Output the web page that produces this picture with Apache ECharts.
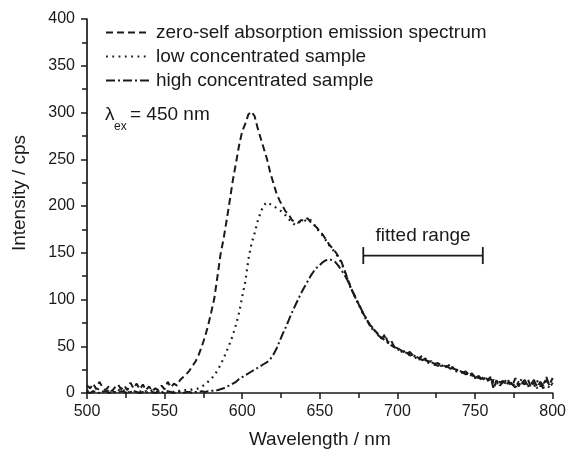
<!DOCTYPE html>
<html>
<head>
<meta charset="utf-8">
<script src="https://cdn.jsdelivr.net/npm/echarts@6/dist/echarts.min.js"></script>
<style>
html,body{margin:0;padding:0;background:#fff;}
#chart{width:569px;height:454px;}
</style>
</head>
<body>
<div id="chart"></div>
<script>
// Wavelength grid (nm)
var wavelength = [
500,502,504,506,508,510,512,514,516,518,520,522,524,526,528,530,532,534,536,538,
540,542,544,546,548,550,552,554,556,558,560,562,564,566,568,570,572,574,576,578,
580,582,584,586,588,590,592,594,596,598,600,602,604,606,608,610,612,614,616,618,
620,622,624,626,628,630,632,634,636,638,640,642,644,646,648,650,652,654,656,658,
660,662,664,666,668,670,672,674,676,678,680,682,684,686,688,690,692,694,696,698,
700,702,704,706,708,710,712,714,716,718,720,722,724,726,728,730,732,734,736,738,
740,742,744,746,748,750,752,754,756,758,760,762,764,766,768,770,772,774,776,778,
780,782,784,786,788,790,792,794,796,798,800];

// zero-self absorption emission spectrum (cps)
var zeroSelf = [
8,5,10,4,12,6,3,7,2,6,9,4,8,3,11,5,10,4,9,3,
7,2,5,3,8,4,12,6,10,8,
14,17,20,24,29,34,41,50,60,72,86,101,124,148,165,185,206,228,246,265,
280,288,298,301,296,283,272,261,250,236,225,214,206,200,194,191,185,183,182,185,
184,187,183,180,177,173,169,164,159,155,151,146,140,131,122,112,106,99,91,85,
79,73,69,66,62,58,63,53,56,49,
48,46,44,42,44,40,39,37,40,35,34,33,31,32,30,29,28,31,26,25,
24,22,23,19,21,17,19,15,18,14,17,4,15,11,13,9,12,8,16,7,
13,9,15,6,11,8,10,5,14,9,16];

// low concentrated sample (cps)
var lowConc = [
2,4,1,3,5,2,0,3,1,2,4,1,3,0,2,1,3,2,0,2,
1,3,1,2,0,3,1,2,1,3,
2,3,3,3,4,4,5,7,9,12,15,19,24,30,37,45,53,62,73,86,
103,119,143,160,171,184,194,201,204,202,200,198,196,193,190,186,182,180,182,184,
185,183,185,181,176,172,168,163,158,154,150,145,139,130,121,113,105,98,92,84,
78,74,68,65,63,57,60,55,52,50,
47,45,45,41,42,41,38,36,37,36,33,34,30,31,29,30,27,28,27,24,
25,21,22,20,18,19,16,17,14,16,12,14,10,13,9,14,10,7,12,9,
15,7,10,12,6,13,7,12,8,6,11];

// high concentrated sample (cps)
var highConc = [
1,0,2,1,0,1,2,0,1,1,0,2,1,0,1,2,1,0,1,0,
2,1,0,1,1,0,2,1,0,1,
1,0,1,1,0,1,1,2,1,2,2,3,3,4,5,7,8,10,12,15,
17,19,21,23,25,27,29,31,33,36,41,47,55,63,70,78,86,93,100,107,
113,119,125,130,134,137,140,142,143,142,140,136,131,126,120,112,105,98,92,85,
80,73,70,65,61,59,56,54,51,49,
48,45,43,43,40,41,37,38,35,37,32,33,31,29,31,28,29,26,27,23,
24,22,20,21,18,16,18,14,16,13,15,11,13,8,12,10,14,9,6,12,
10,14,7,9,14,5,12,8,17,7,10];

var seriesNames = ['zero-self absorption emission spectrum','low concentrated sample','high concentrated sample'];
var fittedRange = [678, 755];
var fittedLevel = 147;
var xTicks = {min:500, max:800, step:50};
var yTicks = {min:0, max:400, step:50};

function pairs(xs, ys){ var o=[]; for (var i=0;i<xs.length;i++) o.push([xs[i], ys[i]]); return o; }

var FONT = "'Liberation Sans', Arial, Helvetica, sans-serif";
var INK = '#1a1a1a';

var chart = echarts.init(document.getElementById('chart'), null, {renderer:'canvas'});

var lineBase = {type:'line', symbol:'none', showSymbol:false, smooth:false, silent:true, animation:false};

chart.setOption({
  animation:false,
  backgroundColor:'#fff',
  textStyle:{fontFamily:FONT, color:INK},
  grid:{left:87, right:14, top:19, bottom:59, containLabel:false},
  legend:{
    data:seriesNames, orient:'vertical', left:105, top:23, padding:0,
    itemWidth:43, itemHeight:12, itemGap:5, selectedMode:false,
    itemStyle:{opacity:0, borderWidth:0},
    textStyle:{fontFamily:FONT, fontSize:19, color:INK, padding:[0,0,0,2]}
  },
  xAxis:{
    type:'value', min:xTicks.min, max:xTicks.max, interval:xTicks.step,
    name:'Wavelength / nm', nameLocation:'middle', nameGap:37,
    nameTextStyle:{fontFamily:FONT, fontSize:19, color:INK},
    axisLine:{show:true, onZero:false, lineStyle:{color:INK, width:1.7}},
    axisTick:{show:true, inside:false, length:6, lineStyle:{color:INK, width:1.5}},
    minorTick:{show:true, splitNumber:2, length:5, lineStyle:{color:INK, width:1.5}},
    axisLabel:{fontFamily:FONT, fontSize:16, color:INK, margin:11},
    splitLine:{show:false}
  },
  yAxis:{
    type:'value', min:yTicks.min, max:yTicks.max, interval:yTicks.step,
    name:'Intensity / cps', nameLocation:'middle', nameGap:58,
    nameTextStyle:{fontFamily:FONT, fontSize:19, color:INK, padding:[0,0,0,26]},
    axisLine:{show:true, onZero:false, lineStyle:{color:INK, width:1.7}},
    axisTick:{show:true, inside:false, length:6, lineStyle:{color:INK, width:1.5}},
    minorTick:{show:true, splitNumber:2, length:5, lineStyle:{color:INK, width:1.5}},
    axisLabel:{fontFamily:FONT, fontSize:16, color:INK, margin:12},
    splitLine:{show:false}
  },
  series:[
    Object.assign({}, lineBase, {
      name:seriesNames[0], data:pairs(wavelength, zeroSelf), z:3,
      itemStyle:{color:INK},
      lineStyle:{color:INK, width:2, type:[7,4]}
    }),
    Object.assign({}, lineBase, {
      name:seriesNames[1], data:pairs(wavelength, lowConc), z:2,
      itemStyle:{color:INK},
      lineStyle:{color:INK, width:2.2, type:[1.8,4.5]}
    }),
    Object.assign({}, lineBase, {
      name:seriesNames[2], data:pairs(wavelength, highConc), z:2,
      itemStyle:{color:INK},
      lineStyle:{color:INK, width:2, type:[9,3,2,3]}
    }),
    {
      type:'line', name:'fitted range', silent:true, animation:false,
      data:[[fittedRange[0], fittedLevel],[fittedRange[1], fittedLevel]],
      symbol:'rect', symbolSize:[1.8,17], showSymbol:true,
      itemStyle:{color:INK}, lineStyle:{color:INK, width:1.7, type:'solid'}
    }
  ]
});

// annotations positioned through the chart's coordinate system
var fr = chart.convertToPixel({gridIndex:0}, [(fittedRange[0]+fittedRange[1])/2, fittedLevel]);
chart.setOption({
  graphic:[
    {type:'text', silent:true, x:fr[0], y:fr[1]-20,
     style:{text:'fitted range', font:'19px ' + FONT, fill:INK, align:'center', verticalAlign:'middle'}},
    {type:'text', silent:true, x:105, y:115,
     style:{text:'\u03BB', font:'19px ' + FONT, fill:INK, align:'left', verticalAlign:'middle'}},
    {type:'text', silent:true, x:114, y:127,
     style:{text:'ex', font:'12px ' + FONT, fill:INK, align:'left', verticalAlign:'middle'}},
    {type:'text', silent:true, x:130, y:115,
     style:{text:'= 450 nm', font:'19px ' + FONT, fill:INK, align:'left', verticalAlign:'middle'}}
  ]
});
</script>
</body>
</html>
